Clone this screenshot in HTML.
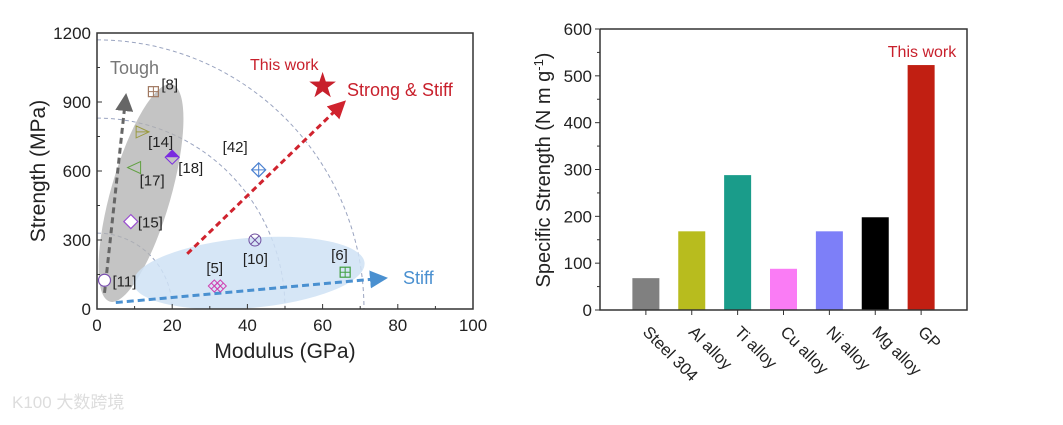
<!DOCTYPE html>
<html><head><meta charset="utf-8"><style>
body{margin:0;background:#fff;width:1063px;height:420px;overflow:hidden;font-family:"Liberation Sans",Arial,sans-serif}
svg text{font-family:"Liberation Sans","Noto Sans CJK SC",sans-serif}
</style></head><body>
<svg id="s" width="1063" height="420" xmlns="http://www.w3.org/2000/svg">
<defs>
<marker id="ag" markerWidth="6" markerHeight="6" refX="3" refY="3" orient="auto"><path d="M0,0L6,3L0,6z" fill="#666"/></marker>
<marker id="ar" markerWidth="6" markerHeight="6" refX="3" refY="3" orient="auto"><path d="M0,0L6,3L0,6z" fill="#d0232e"/></marker>
<marker id="ab" markerWidth="6" markerHeight="6" refX="3" refY="3" orient="auto"><path d="M0,0L6,3L0,6z" fill="#4a90d0"/></marker>
<clipPath id="pc"><rect x="97" y="33" width="376" height="276"/></clipPath>
</defs>
<g id="left"></g>
<g id="right"></g>
<text x="12" y="408" font-size="17" fill="#ddd">K100 大数跨境</text>
</svg>
<script>
const NS="http://www.w3.org/2000/svg";
function mk(p,t,a,txt){const e=document.createElementNS(NS,t);for(const k in a)e.setAttribute(k,a[k]);if(txt!==undefined)e.textContent=txt;p.appendChild(e);return e;}
// ---- left chart data
const xTicks=[0,20,40,60,80,100];
const yTicks=[0,300,600,900,1200];
const refLabels=["[8]","[14]","[17]","[18]","[15]","[11]","[5]","[10]","[42]","[6]"];
const refModulus=[15,12,10,20,9,2,32,42,43,66];
const refStrength=[945,770,615,660,380,125,100,300,605,160];
const workModulus=[60];
const workStrength=[970];
const L=document.getElementById('left');
const X0=97,X1=473,Y0=309,Y1=33;
const sx=v=>X0+(v-0)/(100)*(X1-X0);
const sy=v=>Y0-(v/1200)*(Y0-Y1);
const CL=mk(L,'g',{'clip-path':'url(#pc)'});


// arcs
[[71,1170],[50,830],[20,330]].forEach(a=>{
 const rx=sx(a[0])-X0, ry=Y0-sy(a[1]);
 const e=mk(CL,'path',{d:`M${X0},${Y0-ry} A${rx},${ry} 0 0 1 ${X0+rx},${Y0}`,fill:'none',stroke:'#9aa4c0','stroke-width':1,'stroke-dasharray':'4,3'});
 
});
// ellipses
let el=mk(CL,'ellipse',{cx:141,cy:193,rx:30,ry:113,fill:'#b0b0b0',opacity:0.75,transform:`rotate(16 141 193)`});

el=mk(CL,'ellipse',{cx:249,cy:273,rx:116,ry:35,fill:'#cfe2f5',opacity:0.85,transform:`rotate(-5 249 273)`});

// axes frame
const fr=mk(L,'rect',{x:X0,y:Y1,width:X1-X0,height:Y0-Y1,fill:'none',stroke:'#333','stroke-width':1.5});

xTicks.forEach((v,i)=>{mk(L,'line',{x1:sx(v),x2:sx(v),y1:Y0,y2:Y0-5,stroke:'#333'});
 if(i<5)mk(L,'line',{x1:sx(v+10),x2:sx(v+10),y1:Y0,y2:Y0-3,stroke:'#333'});
 const t=mk(L,'text',{x:sx(v),y:Y0+22,'font-size':17,'text-anchor':'middle',fill:'#222'},v);
 });
yTicks.forEach((v,i)=>{mk(L,'line',{x1:X0,x2:X0+5,y1:sy(v),y2:sy(v),stroke:'#333'});
 if(i<4)mk(L,'line',{x1:X0,x2:X0+3,y1:sy(v+150),y2:sy(v+150),stroke:'#333'});
 const t=mk(L,'text',{x:X0-6,y:sy(v)+6,'font-size':17,'text-anchor':'end',fill:'#222'},v);
 });
let t=mk(L,'text',{x:285,y:358,'font-size':21,'text-anchor':'middle',fill:'#222'},'Modulus (GPa)');

t=mk(L,'text',{x:45,y:171,'font-size':21,'text-anchor':'middle',fill:'#222',transform:'rotate(-90 45 171)'},'Strength (MPa)');

// arrows
let a=mk(L,'line',{x1:sx(2),y1:sy(70),x2:sx(7.5),y2:sy(900),stroke:'#666','stroke-width':3,'stroke-dasharray':'6,4','marker-end':'url(#ag)'});

a=mk(L,'line',{x1:sx(24),y1:sy(240),x2:sx(64.5),y2:sy(880),stroke:'#d0232e','stroke-width':3,'stroke-dasharray':'6,4','marker-end':'url(#ar)'});

a=mk(L,'line',{x1:sx(5),y1:sy(28),x2:sx(75),y2:sy(132),stroke:'#4a90d0','stroke-width':3,'stroke-dasharray':'7,4','marker-end':'url(#ab)'});

// markers
const mColors=['#a07860','#9a9a40','#60a040','#7a2be0','#9b4fd0','#7a4fb0','#d040b0','#7050a0','#4a80d0','#40a040'];
const mOff=[[8,-2],[6,15],[5,18],[6,16],[7,6],[8,6],[-11,-13],[-12,24],[-36,-18],[-14,-12]];
refLabels.forEach((lab,i)=>{
 const x=sx(refModulus[i]),y=sy(refStrength[i]),c=mColors[i];
 const g=mk(L,'g',{});
 if(i==0||i==9){mk(g,'rect',{x:x-5,y:y-5,width:10,height:10,fill:'none',stroke:c,'stroke-width':1.2});mk(g,'path',{d:`M${x} ${y-5}V${y+5}M${x-5} ${y}H${x+5}`,stroke:c});}
 else if(i==1){mk(g,'path',{d:`M${x-6} ${y-6}L${x+7} ${y}L${x-6} ${y+6}z M${x-6} ${y}H${x+7}`,fill:'none',stroke:c});}
 else if(i==2){mk(g,'path',{d:`M${x+6} ${y-6}L${x-7} ${y}L${x+6} ${y+6}z`,fill:'none',stroke:c});}
 else if(i==3){mk(g,'path',{d:`M${x-7} ${y}L${x} ${y-7}L${x+7} ${y}z`,fill:c});mk(g,'path',{d:`M${x-7} ${y}L${x} ${y-7}L${x+7} ${y}L${x} ${y+7}z`,fill:'none',stroke:c});}
 else if(i==4||i==8){mk(g,'path',{d:`M${x-7} ${y}L${x} ${y-7}L${x+7} ${y}L${x} ${y+7}z`,fill:'#fff',stroke:c,'stroke-width':1.2});if(i==8)mk(g,'path',{d:`M${x} ${y-7}V${y+7}M${x-7} ${y}H${x+7}`,stroke:c});}
 else if(i==5){mk(g,'circle',{cx:x,cy:y,r:6,fill:'#fff',stroke:c,'stroke-width':1.2});}
 else if(i==6){[-3,3].forEach(d=>{mk(g,'path',{d:`M${x+d-6} ${y}L${x+d} ${y-6}L${x+d+6} ${y}L${x+d} ${y+6}z M${x+d-3} ${y-3}L${x+d+3} ${y+3}M${x+d+3} ${y-3}L${x+d-3} ${y+3}`,fill:'none',stroke:c});});}
 else {mk(g,'circle',{cx:x,cy:y,r:6,fill:'none',stroke:c});mk(g,'path',{d:`M${x-4} ${y-4}L${x+4} ${y+4}M${x+4} ${y-4}L${x-4} ${y+4}`,stroke:c});}
 const tt=mk(L,'text',{x:x+mOff[i][0],y:y+mOff[i][1],'font-size':15,fill:'#222'},lab);
 
});
workModulus.forEach((m,i)=>{
 const x=sx(m),y=sy(workStrength[i]);let p='';
 for(let k=0;k<10;k++){const r=k%2?5.5:14,an=-Math.PI/2+k*Math.PI/5;p+=(k?'L':'M')+(x+r*Math.cos(an)).toFixed(1)+' '+(y+r*Math.sin(an)).toFixed(1);}
 const s=mk(L,'path',{d:p+'z',fill:'#c8202c'});
});
t=mk(L,'text',{x:250,y:70,'font-size':16,fill:'#c8202c'},'This work');
t=mk(L,'text',{x:347,y:96,'font-size':18,fill:'#c8202c'},'Strong & Stiff');
t=mk(L,'text',{x:110,y:74,'font-size':18,fill:'#777'},'Tough');
t=mk(L,'text',{x:403,y:284,'font-size':18,fill:'#4a90d0'},'Stiff');

// ---- right chart data
const categories=["Steel 304","Al alloy","Ti alloy","Cu alloy","Ni alloy","Mg alloy","GP"];
const specStrength=[68,168,288,88,168,198,523];
const rTicks=[0,100,200,300,400,500,600];
const barColors=['#808080','#b8bc1e','#1a9c8a','#fa7cf5','#7d7ff8','#000000','#c11f12'];
const R=document.getElementById('right');
const RX0=600,RX1=967,RY0=310,RY1=29;
const bx=i=>RX0+(i+1)/8*(RX1-RX0);
const by=v=>RY0-v/600*(RY0-RY1);
specStrength.forEach((v,i)=>{
 const b=mk(R,'rect',{x:bx(i)-13.5,y:by(v),width:27,height:RY0-by(v),fill:barColors[i]});
 
 mk(R,'line',{x1:bx(i),x2:bx(i),y1:RY0,y2:RY0+5,stroke:'#333'});
 const x=bx(i)-4,y=RY0+23;
 const tl=mk(R,'text',{x:x,y:y,'font-size':16.5,fill:'#222',transform:`rotate(45 ${x} ${y})`},categories[i]);
 
});
const rf=mk(R,'path',{d:`M${RX0} ${RY1}V${RY0}H${RX1}V${RY1}H${RX0}`,fill:'none',stroke:'#333','stroke-width':1.5});


rTicks.forEach((v,i)=>{mk(R,'line',{x1:RX0-5,x2:RX0,y1:by(v),y2:by(v),stroke:'#333'});
 if(i<6)mk(R,'line',{x1:RX0-3,x2:RX0,y1:by(v+50),y2:by(v+50),stroke:'#333'});
 const tt=mk(R,'text',{x:RX0-8,y:by(v)+6,'font-size':17,'text-anchor':'end',fill:'#222'},v);
 });
t=mk(R,'text',{x:550,y:170,'font-size':20,'text-anchor':'middle',fill:'#222',transform:'rotate(-90 550 170)'});
t.innerHTML='Specific Strength (N m g<tspan dy="-7" font-size="13">-1</tspan><tspan dy="7">)</tspan>';

t=mk(R,'text',{x:922,y:57,'font-size':16,'text-anchor':'middle',fill:'#c8202c'},'This work');

</script>
</body></html>
